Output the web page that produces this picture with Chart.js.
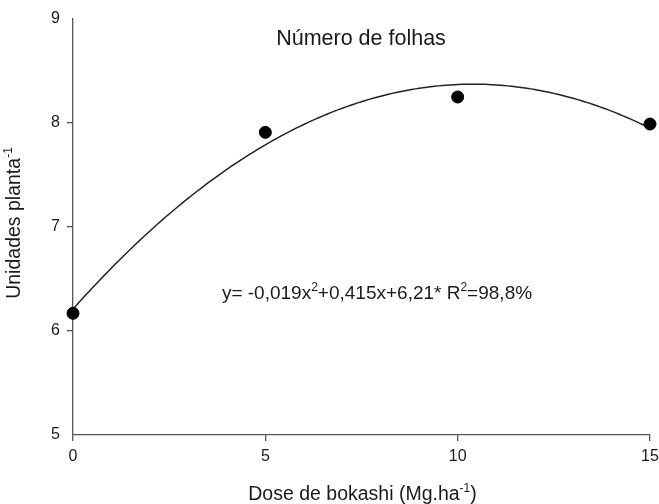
<!DOCTYPE html>
<html><head><meta charset="utf-8">
<script src="https://cdn.jsdelivr.net/npm/chart.js@4.4.1/dist/chart.umd.min.js"></script>
<style>html,body{margin:0;padding:0;background:#fff;}#wrap{width:659px;height:504px;}</style>
</head><body><div id="wrap"><canvas id="c" width="659" height="504"></canvas></div>
<script>
const doses = [0, 5, 10, 15];
const folhas = [6.17, 7.91, 8.25, 7.99];
const xTicks = [0, 5, 10, 15];
const yTicks = [5, 6, 7, 8, 9];
const titleText = "Número de folhas";
const eqParts = ["y= -0,019x", "2", "+0,415x+6,21* R", "2", "=98,8%"];
const xTitle = ["Dose de bokashi (Mg.ha", "-1", ")"];
const yTitle = ["Unidades planta", "-1"];

// least-squares quadratic fit of the observed points (trend line)
function quadFit(xs, ys) {
  let S = [0,0,0,0,0], T = [0,0,0];
  for (let i = 0; i < xs.length; i++) {
    let p = 1;
    for (let k = 0; k < 5; k++) { S[k] += p; if (k < 3) T[k] += p * ys[i]; p *= xs[i]; }
  }
  const A = [[S[0],S[1],S[2],T[0]],[S[1],S[2],S[3],T[1]],[S[2],S[3],S[4],T[2]]];
  for (let i = 0; i < 3; i++) {
    for (let j = i+1; j < 3; j++) {
      const f = A[j][i] / A[i][i];
      for (let k = i; k < 4; k++) A[j][k] -= f * A[i][k];
    }
  }
  const c = [0,0,0];
  for (let i = 2; i >= 0; i--) {
    let s = A[i][3];
    for (let k = i+1; k < 3; k++) s -= A[i][k] * c[k];
    c[i] = s / A[i][i];
  }
  return c;
}
const coef = quadFit(doses, folhas);
const curve = [];
for (let i = 0; i <= 150; i++) {
  const x = i * 0.1;
  curve.push({x: x, y: coef[0] + coef[1]*x + coef[2]*x*x});
}

const FONT = "'Liberation Sans', Arial, sans-serif";
const INK = '#1a1a1a';
const AX = '#555';

function drawSup(ctx, parts, x, y, size, align) {
  let widths = parts.map((p, i) => {
    ctx.font = (i % 2 ? Math.round(size*0.62) : size) + 'px ' + FONT;
    return ctx.measureText(p).width;
  });
  const total = widths.reduce((a,b)=>a+b,0);
  let cx = align === 'center' ? x - total/2 : x;
  parts.forEach((p, i) => {
    ctx.font = (i % 2 ? Math.round(size*0.62) : size) + 'px ' + FONT;
    ctx.textAlign = 'left';
    ctx.textBaseline = 'alphabetic';
    ctx.fillText(p, cx, i % 2 ? y - size*0.42 : y);
    cx += widths[i];
  });
}

const textPlugin = {
  id: 'texts',
  afterDraw(chart) {
    const ctx = chart.ctx;
    const a = chart.chartArea;
    ctx.save();
    ctx.fillStyle = INK;
    ctx.font = '21.5px ' + FONT;
    ctx.textAlign = 'center';
    ctx.textBaseline = 'alphabetic';
    ctx.fillText(titleText, 361, 45);
    drawSup(ctx, eqParts, 377, 299, 19, 'center');
    drawSup(ctx, xTitle, (a.left + a.right)/2 + 1, 500, 19.5, 'center');
    ctx.translate(20, (a.top + a.bottom)/2 - 4);
    ctx.rotate(-Math.PI/2);
    drawSup(ctx, yTitle, 0, 0, 19.5, 'center');
    ctx.restore();
  }
};

new Chart(document.getElementById('c'), {
  type: 'scatter',
  data: {
    datasets: [
      { data: doses.map((d, i) => ({x: d, y: folhas[i]})), backgroundColor: '#000', borderColor: '#000',
        pointRadius: 6, pointHoverRadius: 6, showLine: false, order: 0, clip: false },
      { data: curve, showLine: true, borderColor: '#222', borderWidth: 1.5, pointRadius: 0, tension: 0, fill: false, order: 1, clip: false }
    ]
  },
  options: {
    responsive: false, animation: false, devicePixelRatio: 1,
    layout: { padding: { top: 19, right: 9, left: 0, bottom: 0 } },
    plugins: { legend: { display: false }, tooltip: { enabled: false }, title: { display: false } },
    scales: {
      x: {
        type: 'linear', min: 0, max: 15,
        afterFit(s) { s.height = 69; s.paddingLeft = 0; s.paddingRight = 0; },
        afterBuildTicks(s) { s.ticks = xTicks.map(v => ({value: v})); },
        border: { display: true, color: AX, width: 1.3 },
        grid: { display: true, drawOnChartArea: false, drawTicks: true, tickLength: 6, color: AX, lineWidth: 1.3 },
        ticks: { color: INK, font: { family: FONT, size: 16 }, padding: 6, maxRotation: 0 }
      },
      y: {
        type: 'linear', min: 5, max: 9,
        afterFit(s) { s.width = 73; s.paddingTop = 0; s.paddingBottom = 0; },
        afterBuildTicks(s) { s.ticks = yTicks.map(v => ({value: v})); },
        border: { display: true, color: AX, width: 1.3 },
        grid: { display: true, drawOnChartArea: false, drawTicks: true, tickLength: 6, lineWidth: 1.3,
                color: c => (c.tick && (c.tick.value === 5 || c.tick.value === 9)) ? 'rgba(0,0,0,0)' : AX },
        ticks: { color: INK, font: { family: FONT, size: 16 }, padding: 7 }
      }
    }
  },
  plugins: [textPlugin]
});
</script>
</body></html>
